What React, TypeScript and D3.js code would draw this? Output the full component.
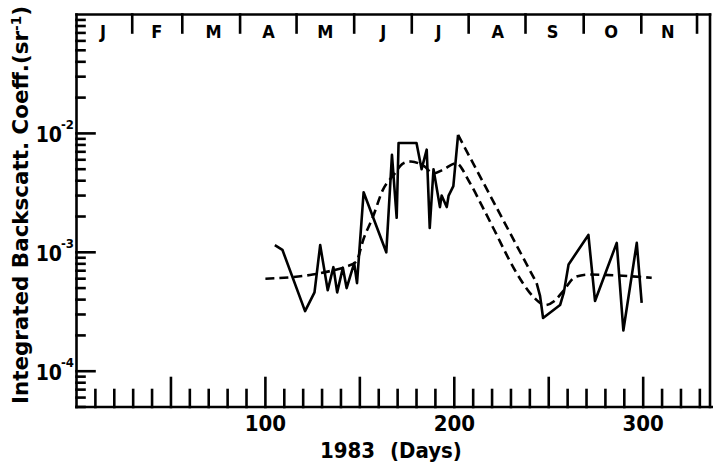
import React from "react";
import * as d3 from "d3";

// Observed series (day of year, integrated backscatter coefficient, sr^-1)
const obsDaysA = [105, 109, 121, 126, 129, 133, 136, 138, 141, 143, 147, 148.5, 152, 164, 167, 169.5, 170.5, 180, 182.7, 185.4, 187, 189, 192.4, 193.3, 196, 197, 199.5, 202];
const obsValsA = [1.15e-3, 1.05e-3, 3.2e-4, 4.6e-4, 1.15e-3, 4.8e-4, 7.5e-4, 4.6e-4, 7.4e-4, 5.0e-4, 8.1e-4, 5.5e-4, 3.2e-3, 1.0e-3, 6.6e-3, 1.95e-3, 8.3e-3, 8.3e-3, 5.0e-3, 7.3e-3, 1.6e-3, 5.0e-3, 2.4e-3, 3.0e-3, 2.4e-3, 3.0e-3, 3.6e-3, 9.7e-3];
const obsDaysB = [243.6, 245.4, 247, 256, 258, 260.5, 271, 274.5, 286, 289.5, 296.6, 299.2];
const obsValsB = [5.5e-4, 4.3e-4, 2.8e-4, 3.6e-4, 4.6e-4, 7.9e-4, 1.4e-3, 3.9e-4, 1.2e-3, 2.2e-4, 1.2e-3, 3.75e-4];

// Smoothed fit curve
const fitDays = [100, 115, 125, 135, 143, 148, 152, 157, 162, 168, 173, 177, 184, 189, 194, 201, 208, 215, 222, 229, 236, 242, 248, 253, 258, 264, 271, 285, 304.5];
const fitVals = [6.0e-4, 6.2e-4, 6.5e-4, 7.0e-4, 7.6e-4, 8.3e-4, 1.3e-3, 2.0e-3, 3.3e-3, 4.5e-3, 5.6e-3, 5.8e-3, 5.3e-3, 4.6e-3, 4.95e-3, 5.6e-3, 3.9e-3, 2.4e-3, 1.45e-3, 8.7e-4, 5.6e-4, 4.2e-4, 3.6e-4, 3.9e-4, 4.8e-4, 6.2e-4, 6.5e-4, 6.4e-4, 6.1e-4];

// Axis annotations
const monthLabels = ["J", "F", "M", "A", "M", "J", "J", "A", "S", "O", "N"];
const monthCenters = [14, 42.5, 72.5, 101.6, 131.7, 162.4, 191.6, 223, 252, 283, 313];
const monthBounds = [29.5, 56, 86.6, 116.5, 147, 177.5, 207.6, 237.7, 268.5, 299, 328.5];
const xTickLabels = [100, 200, 300];
const yMajor = [-2, -3, -4];

const W = 713, H = 468;
const FONT = "'Liberation Sans Narrow', 'DejaVu Sans Condensed', 'Liberation Sans', sans-serif";

export default function App() {
  const x = d3.scaleLinear().domain([0, 335]).range([76.5, 709.3]);
  const y = d3.scaleLog().domain([5e-5, 0.1]).range([407, 14.5]);
  const top = y(0.1), bottom = y(5e-5), left = x(0), right = 710;

  const line = d3.line<[number, number]>().x(d => x(d[0])).y(d => y(d[1]));
  const smooth = d3.line<[number, number]>().x(d => x(d[0])).y(d => y(d[1])).curve(d3.curveMonotoneX);

  const A: [number, number][] = obsDaysA.map((d, i) => [d, obsValsA[i]]);
  const B: [number, number][] = obsDaysB.map((d, i) => [d, obsValsB[i]]);
  const gap: [number, number][] = [A[A.length - 1], B[0]];
  const fit: [number, number][] = fitDays.map((d, i) => [d, fitVals[i]]);

  const minorY: number[] = [];
  for (let e = -5; e <= -2; e++) for (let k = 2; k <= 9; k++) {
    const v = k * Math.pow(10, e);
    if (v >= 5e-5 && v < 0.1) minorY.push(v);
  }
  const xTicks = d3.range(10, 335, 10);

  const sw = 2.6;
  return (
    <svg width={W} height={H} style={{ position: "absolute", left: 0, top: 0, background: "#fff" }}>
      <g stroke="#000" strokeWidth={sw} fill="none" strokeLinecap="square">
        <line x1={left} y1={top} x2={right} y2={top} />
        <line x1={left} y1={top} x2={left} y2={bottom} />
        <line x1={left} y1={bottom} x2={W} y2={bottom} />
        <line x1={right} y1={top} x2={right} y2={bottom} />
        {yMajor.map(e => (
          <line key={"ym" + e} x1={left} x2={left + 18} y1={y(Math.pow(10, e))} y2={y(Math.pow(10, e))} />
        ))}
        {minorY.map((v, i) => (
          <line key={"yn" + i} x1={left} x2={left + 8} y1={y(v)} y2={y(v)} />
        ))}
        {xTicks.map(t => (
          <line key={"xt" + t} x1={x(t)} x2={x(t)} y1={bottom} y2={bottom - (t % 50 === 0 ? 29 : 17)} />
        ))}
        {monthBounds.map((m, i) => (
          <line key={"mb" + i} x1={x(m)} x2={x(m)} y1={top} y2={top + 18} />
        ))}
      </g>
      <g fill="none" stroke="#000" strokeWidth={2.6} strokeLinejoin="round">
        <path d={line(A) || ""} />
        <path d={line(B) || ""} />
        <path d={line(gap) || ""} strokeDasharray="9 5" />
        <path d={smooth(fit) || ""} strokeDasharray="9 5" />
      </g>
      <g fontFamily={FONT} fontWeight="bold" fill="#000">
        {monthLabels.map((m, i) => (
          <text key={"ml" + i} x={x(monthCenters[i])} y={38} fontSize={18} textAnchor="middle">{m}</text>
        ))}
        {xTickLabels.map(t => (
          <text key={"xl" + t} x={x(t)} y={431} fontSize={22} textAnchor="middle">{t}</text>
        ))}
        <text x={320} y={458} fontSize={22}>1983</text>
        <text x={390} y={458} fontSize={22}>(Days)</text>
        {yMajor.map(e => (
          <g key={"yl" + e}>
            <text x={62} y={y(Math.pow(10, e)) + 9} fontSize={21} textAnchor="end">10</text>
            <text x={61} y={y(Math.pow(10, e)) - 4} fontSize={13}>{"-" + (-e)}</text>
          </g>
        ))}
        <text transform="translate(28,205) rotate(-90)" textAnchor="middle" fontSize={22} textLength={398} lengthAdjust="spacingAndGlyphs">
          Integrated  Backscatt. Coeff.(sr<tspan dy={-7} fontSize={14}>-1</tspan><tspan dy={7}>)</tspan>
        </text>
      </g>
    </svg>
  );
}
